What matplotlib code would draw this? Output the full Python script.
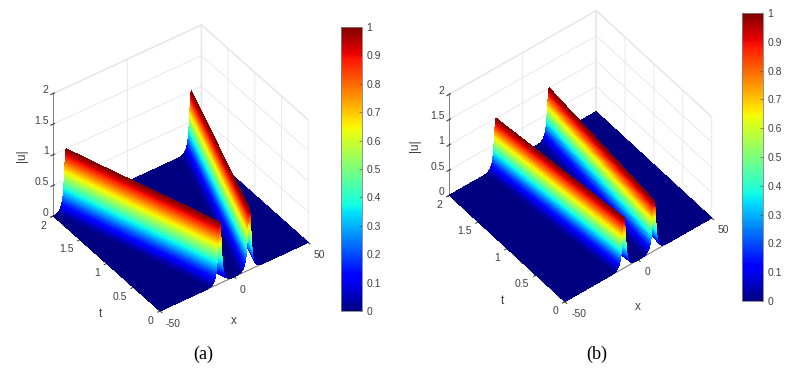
import numpy as np
import matplotlib
matplotlib.use('Agg')
import matplotlib.pyplot as plt
from matplotlib.cm import ScalarMappable
from matplotlib.colors import Normalize
from mpl_toolkits.mplot3d import proj3d

W, H = 791, 371

# values
t_rows = [0, 0.2, 0.4, 0.6, 0.8, 1.0, 1.2, 1.4, 1.6, 1.8, 2.0]
# soliton profile: distance from the ridge and |u| there
offsets = [0, 0.23, 0.32, 0.4, 0.47, 0.53, 0.58, 0.63, 0.68, 0.73, 0.77, 0.82, 0.86,
           0.9, 0.95, 0.99, 1.04, 1.08, 1.12, 1.16, 1.2, 1.24, 1.29, 1.33, 1.38, 1.42,
           1.46, 1.51, 1.56, 1.61, 1.66, 1.71, 1.77, 1.83, 1.89, 1.96, 2.03, 2.11, 2.2,
           2.3, 2.41, 2.55, 2.72, 2.92, 3.15, 3.42, 3.75, 4.15, 4.7, 5.6, 6.5, 8]
profile = [1, 0.98, 0.96, 0.94, 0.92, 0.9, 0.88, 0.86, 0.84, 0.82, 0.8, 0.78, 0.76,
           0.74, 0.72, 0.7, 0.68, 0.66, 0.64, 0.62, 0.6, 0.58, 0.56, 0.54, 0.52, 0.5,
           0.48, 0.46, 0.44, 0.42, 0.4, 0.38, 0.36, 0.34, 0.32, 0.3, 0.28, 0.26, 0.24,
           0.22, 0.2, 0.18, 0.16, 0.14, 0.12, 0.1, 0.08, 0.06, 0.04, 0.02, 0.01, 0]
# ridge position x for each t row
left_a = [-9.8, -13, -16, -19.2, -22.4, -25.6, -28.8, -32, -35.1, -38.2, -41.3]
right_a = [10.2, 13.5, 16.8, 20.1, 23.4, 26.7, 30, 33.3, 36.6, 39.9, 43.2]
left_b = [-9.8, -10.6, -11.5, -12.3, -13.2, -14, -14.8, -15.7, -16.5, -17.4, -18.2]
right_b = [10.7, 11.4, 12.2, 12.9, 13.6, 14.4, 15.1, 15.8, 16.5, 17.3, 18]

x_ticks = [-50, 0, 50]
t_ticks = [0, 0.5, 1, 1.5, 2]
z_ticks = [0, 0.5, 1, 1.5, 2]
z_labels = ['0', '0.5', '1', '1.5', '2']
t_labels = ['0', '0.5', '1', '1.5', '2']
cb_ticks = [0, 0.1, 0.2, 0.3, 0.4, 0.5, 0.6, 0.7, 0.8, 0.9, 1]
cb_labels = ['0', '0.1', '0.2', '0.3', '0.4', '0.5', '0.6', '0.7', '0.8', '0.9', '1']

GREY = '#404040'
plt.rcParams['font.family'] = ['Liberation Sans', 'DejaVu Sans']
plt.rcParams['font.size'] = 7.5
plt.rcParams['axes.unicode_minus'] = False
plt.rcParams['grid.color'] = '#e6e6e6'
plt.rcParams['grid.linewidth'] = 0.6


def make_mesh(left, right):
    off = np.array(offsets)
    prof = np.array(profile)
    col_off = np.r_[-off[::-1], off[1:]]
    col_u = np.r_[prof[::-1], prof[1:]]
    rows_x, rows_u = [], []
    for cl, cr in zip(left, right):
        rows_x.append(np.r_[-50, cl + col_off, (cl + cr) / 2, cr + col_off, 50])
        rows_u.append(np.r_[0, col_u, 0, col_u, 0])
    X = np.clip(np.array(rows_x), -50, 50)
    T = np.repeat(np.array(t_rows)[:, None], X.shape[1], axis=1)
    return X, T, np.array(rows_u)


def to_px(ax, x, y, z):
    px, py, _ = proj3d.proj_transform(x, y, z, ax.get_proj())
    return ax.transData.transform((px, py))


def fit_axes(ax, corner1, corner2):
    # move the square axes so two floor corners land on given pixels
    fig.canvas.draw()
    pos = ax.get_position()
    s = pos.width * W
    o = np.array([pos.x0 * W, pos.y0 * H])
    a = to_px(ax, -50, 2, 0)
    b = to_px(ax, 50, 0, 0)
    ta = np.array([corner1[0], H - corner1[1]])
    tb = np.array([corner2[0], H - corner2[1]])
    s2 = s * np.linalg.norm(tb - ta) / np.linalg.norm(b - a)
    o2 = ta - (a - o) / s * s2
    ax.set_position([o2[0] / W, o2[1] / H, s2 / W, s2 / H])


def px_text(xy, s, **kw):
    fig.text(xy[0] / W, 1 - xy[1] / H, s, ha='center', va='center', **kw)


def panel(left, right, elev, azim, zbox, c1, c2, cb_box, caption, cap_xy, xl, tl, zl):
    ax = fig.add_axes([0.1, 0.1, 0.5, 0.5 * W / H], projection='3d', proj_type='ortho')
    ax.view_init(elev=elev, azim=azim)
    ax.set_box_aspect((1, 1, zbox), zoom=1)
    ax.patch.set_alpha(0)

    X, T, U = make_mesh(left, right)
    U_q = U.copy()
    U_q[:, :-1] = 0.5 * (U[:, :-1] + U[:, 1:])
    ax.plot_surface(X, T, U, facecolors=plt.cm.jet(U_q), rstride=1, cstride=1,
                    shade=False, linewidth=0, antialiased=False)

    ax.set_xlim(-50, 50, view_margin=0)
    ax.set_ylim(0, 2, view_margin=0)
    ax.set_zlim(0, 2, view_margin=0)
    ax.set_xticks(x_ticks)
    ax.set_yticks(t_ticks, labels=t_labels)
    ax.set_zticks(z_ticks, labels=z_labels)
    ax.tick_params(colors=GREY, labelsize=7.5)
    ax.xaxis.set_tick_params(pad=-2)
    ax.yaxis.set_tick_params(pad=-3)
    ax.zaxis.set_tick_params(pad=-6)
    for lab in ax.get_xticklabels():
        lab.set_ha('left')
        lab.set_va('center_baseline')
    for lab in ax.get_yticklabels():
        lab.set_ha('right')
        lab.set_va('center_baseline')
    for lab in ax.get_zticklabels():
        lab.set_ha('right')
        lab.set_va('baseline')
    for axis in (ax.xaxis, ax.yaxis, ax.zaxis):
        axis.set_pane_color((1, 1, 1, 1))
        axis.pane.set_edgecolor('#e6e6e6')
        axis.line.set_color('#707070')
        axis.line.set_linewidth(0.6)
    fit_axes(ax, c1, c2)
    px_text(xl, 'x', color=GREY, fontsize=8.5)
    px_text(tl, 't', color=GREY, fontsize=8.5)
    px_text(zl, '|u|', color=GREY, fontsize=8.5, rotation=90)

    cax = fig.add_axes([cb_box[0] / W, 1 - cb_box[3] / H,
                        (cb_box[1] - cb_box[0]) / W, (cb_box[3] - cb_box[2]) / H])
    cb = fig.colorbar(ScalarMappable(Normalize(0, 1), 'jet'), cax=cax)
    cb.set_ticks(cb_ticks, labels=cb_labels)
    cb.ax.tick_params(direction='in', length=2, width=0.4, colors=GREY, labelsize=7.5, pad=3)
    cb.outline.set_edgecolor('#808080')
    cb.outline.set_linewidth(0.6)
    px_text(cap_xy, caption, family='Liberation Serif', fontsize=13, color='black')
    return ax


fig = plt.figure(figsize=(W / 100, H / 100), dpi=100, facecolor='white')
panel(left_a, right_a, 39.9, -125.8, 0.875, (53.3, 216), (308.3, 241.7),
      (341, 362, 27, 311), '(a)', (203, 354), (234, 321), (100, 314), (22, 156))
panel(left_b, right_b, 46.4, -128.2, 0.784, (449.3, 195.3), (711.7, 218),
      (742.3, 763, 13, 301), '(b)', (597, 354), (638, 307), (502, 301), (415, 146))
fig.savefig('out.png', dpi=100)
